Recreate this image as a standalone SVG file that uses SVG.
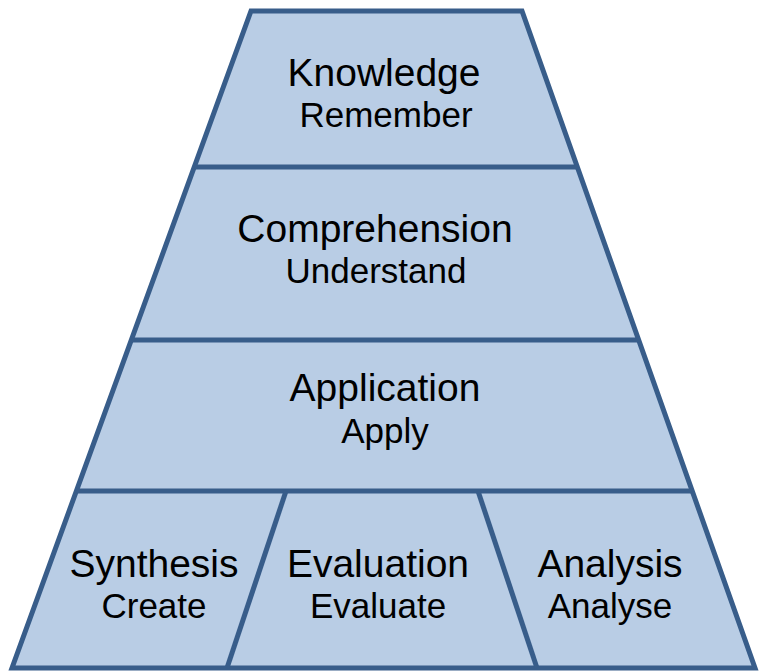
<svg xmlns="http://www.w3.org/2000/svg" width="759" height="672" viewBox="0 0 759 672">
<style>
.tier{fill:#b9cde5;stroke:#b9cde5;stroke-width:1}
.ln{stroke:#385d8a;stroke-width:5;fill:none;stroke-linejoin:miter}
.t1{font-family:"Liberation Sans",Arial,sans-serif;font-size:39px;fill:#000;text-anchor:middle}
.t2{font-family:"Liberation Sans",Arial,sans-serif;font-size:35px;fill:#000;text-anchor:middle}
</style>
<rect width="759" height="672" fill="#fff"/>
<g id="knowledge">
<polygon class="tier" points="251,11 522,11 577.3,167 194.3,167"/>
<text class="t1" x="384" y="86">Knowledge</text>
<text class="t2" x="386" y="127">Remember</text>
</g>
<g id="comprehension">
<polygon class="tier" points="194.3,167 577.3,167 638.7,340 131.3,340"/>
<text class="t1" x="375" y="242">Comprehension</text>
<text class="t2" x="376" y="283">Understand</text>
</g>
<g id="application">
<polygon class="tier" points="131.3,340 638.7,340 692.2,491 76.4,491"/>
<text class="t1" x="385" y="401">Application</text>
<text class="t2" x="385" y="443">Apply</text>
</g>
<g id="synthesis">
<polygon class="tier" points="76.4,491 286,491 227,668 12,668"/>
<text class="t1" x="154" y="577">Synthesis</text>
<text class="t2" x="154" y="618">Create</text>
</g>
<g id="evaluation">
<polygon class="tier" points="286,491 478,491 537,668 227,668"/>
<text class="t1" x="378" y="577">Evaluation</text>
<text class="t2" x="378" y="618">Evaluate</text>
</g>
<g id="analysis">
<polygon class="tier" points="478,491 692.2,491 755,668 537,668"/>
<text class="t1" x="610" y="577">Analysis</text>
<text class="t2" x="610" y="618">Analyse</text>
</g>
<g id="connectors">
<polygon class="ln" points="251,11 522,11 755,668 12,668"/>
<line class="ln" x1="194.3" y1="167" x2="577.3" y2="167"/>
<line class="ln" x1="131.3" y1="340" x2="638.7" y2="340"/>
<line class="ln" x1="76.4" y1="491" x2="692.2" y2="491"/>
<line class="ln" x1="286" y1="491" x2="227" y2="668"/>
<line class="ln" x1="478" y1="491" x2="537" y2="668"/>
</g>
</svg>
